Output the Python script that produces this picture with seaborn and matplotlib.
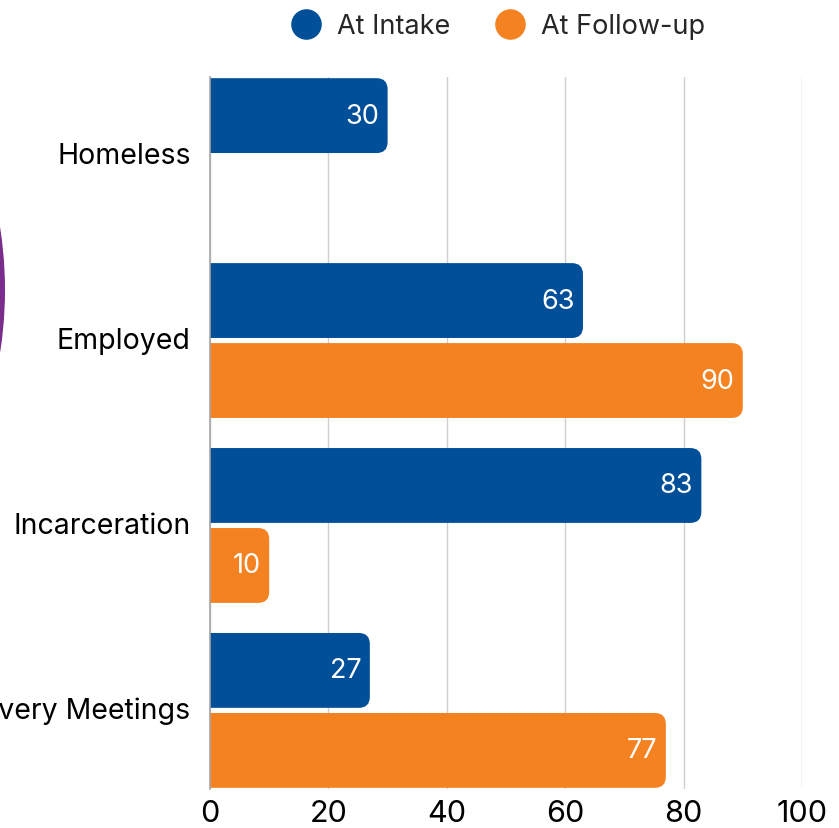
import matplotlib
matplotlib.use("Agg")
import matplotlib.pyplot as plt
from matplotlib.patches import FancyBboxPatch, Ellipse
from matplotlib.lines import Line2D
import seaborn as sns
import pandas as pd

categories = ["Homeless", "Employed", "Incarceration", "Recovery Meetings"]
at_intake = [30, 63, 83, 27]
at_follow_up = [0, 90, 10, 77]
series_names = ["At Intake", "At Follow-up"]
colors = ["#004F98", "#F58220"]

df = pd.DataFrame({
    "Category": categories * 2,
    "Value": at_intake + at_follow_up,
    "Series": [series_names[0]] * 4 + [series_names[1]] * 4,
})

sns.set_theme(style="white")
plt.rcParams["font.family"] = ["Inter", "DejaVu Sans"]

fig = plt.figure(figsize=(8.39, 8.29), dpi=100)
ax = fig.add_axes([210 / 839, 1 - 790 / 829, 592 / 839, 712 / 829])

sns.barplot(data=df, x="Value", y="Category", hue="Series", orient="h",
            palette=colors, width=0.865, gap=0.064, legend=False, ax=ax)

ax.set_xlim(0, 100)
ax.set_ylim(3.425, -0.425)

# swap the square bars for ones with rounded right ends
px_x = 592 / 100
px_y = 712 / 3.85
r_px = 11
for container, color, vals in zip(ax.containers, colors, [at_intake, at_follow_up]):
    for bar, v in zip(container, vals):
        bar.set_visible(False)
        if v <= 0:
            continue
        y0 = bar.get_y()
        h = bar.get_height()
        rx = r_px / px_x
        box = FancyBboxPatch((-rx * 2, y0), v + rx * 2, h,
                             boxstyle=f"round,pad=0,rounding_size={rx}",
                             mutation_aspect=px_x / px_y,
                             facecolor=color, edgecolor="none", zorder=3)
        ax.add_patch(box)
        ax.text(v - 1.4, y0 + h / 2, f"{v}", color="white", fontsize=19.5,
                ha="right", va="center", zorder=4)

for s in ["top", "right", "bottom"]:
    ax.spines[s].set_visible(False)
ax.spines["left"].set_color("#A6A6A6")
ax.spines["left"].set_linewidth(1.2)
ax.spines["left"].set_zorder(5)

ax.set_xticks([0, 20, 40, 60, 80, 100])
ax.xaxis.grid(True, color="#CFCFCF", linewidth=1)
ax.set_axisbelow(True)
ax.tick_params(axis="x", length=0, labelsize=22, pad=7, colors="black")
ax.tick_params(axis="y", length=0, labelsize=20.5, pad=14, colors="black")
ax.set_xlabel("")
ax.set_ylabel("")
for lbl in ax.get_yticklabels():
    lbl.set_va("center")

handles = [Line2D([0], [0], marker="o", linestyle="", markersize=21,
                  markerfacecolor=c, markeredgecolor=c) for c in colors]
fig.legend(handles, series_names, loc="center", bbox_to_anchor=(0.586, 0.967),
           ncol=2, frameon=False, fontsize=19.5, handletextpad=0.15,
           columnspacing=1.2)

# purple decoration peeking in on the left edge
fig.patches.append(Ellipse((-401 / 839, 1 - 291 / 829), 812 / 839, 812 / 829,
                           transform=fig.transFigure, facecolor="#7B2D8E",
                           edgecolor="none"))

fig.savefig("out.png", dpi=100)
